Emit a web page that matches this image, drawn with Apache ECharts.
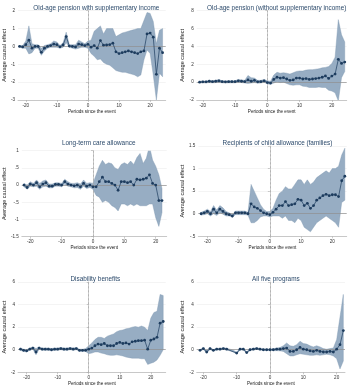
<!DOCTYPE html>
<html>
<head>
<meta charset="utf-8">
<script src="https://cdn.jsdelivr.net/npm/echarts@6/dist/echarts.min.js"></script>
<style>
  html, body { margin: 0; padding: 0; background: #fff; }
  #main { width: 350px; height: 388px; }
</style>
</head>
<body>
<div id="main"></div>
<script>
// event-study estimates, one set of arrays per panel
const titles = [
  'Old-age pension with supplementary income',
  'Old-age pension (without supplementary income)',
  'Long-term care allowance',
  'Recipients of child allowance (families)',
  'Disability benefits',
  'All five programs'
];
const xTicks = [-20, -10, 0, 10, 20];

// 1: old-age pension with supplementary income (t = -22..24)
const periods1 = [-22,-21,-20,-19,-18,-17,-16,-15,-14,-13,-12,-11,-10,-9,-8,-7,-6,-5,-4,-3,-2,-1,0,1,2,3,4,5,6,7,8,9,10,11,12,13,14,15,16,17,18,19,20,21,22,23,24];
const est1 = [0,-0.03,0.1,0.35,-0.1,0,0,-0.33,-0.1,0,0.05,0.13,0.1,-0.02,0.08,0.55,0.02,0,-0.03,0.13,0.1,0.05,
  0.12,-0.04,0.05,-0.1,0.33,0.07,0.08,0.1,0.18,-0.3,-0.4,-0.35,-0.3,-0.25,-0.3,-0.35,-0.4,-0.3,-0.25,0.7,0.75,0.52,-1.56,-0.1,-0.35];
const lo1 = [-0.05,-0.1,-0.1,-0.42,-0.35,-0.1,-0.1,-0.5,-0.25,-0.1,-0.05,-0.05,-0.05,-0.1,-0.05,0.2,-0.05,-0.1,-0.15,-0.1,-0.05,-0.05,
  -0.1,-0.4,-0.55,-0.75,-0.7,-0.9,-1.0,-1.05,-1.2,-1.35,-1.4,-1.45,-1.45,-1.5,-1.55,-1.6,-1.7,-1.6,-0.75,-0.2,-0.4,-1.6,-3.0,-1.5,-1.7];
const hi1 = [0.05,0.05,0.3,1.15,0.15,0.1,0.1,-0.1,0.05,0.1,0.15,0.3,0.25,0.05,0.2,0.8,0.1,0.1,0.1,0.35,0.25,0.15,
  0.3,0.35,0.85,1.0,1.15,0.7,1.0,1.0,1.0,0.55,0.65,0.75,0.8,0.85,0.9,0.95,1.0,1.0,1.45,1.9,1.85,1.4,0.15,0.9,1.0];

// 2: old-age pension without supplementary income (t = -21..24)
const periods2 = [-21,-20,-19,-18,-17,-16,-15,-14,-13,-12,-11,-10,-9,-8,-7,-6,-5,-4,-3,-2,-1,0,1,2,3,4,5,6,7,8,9,10,11,12,13,14,15,16,17,18,19,20,21,22,23,24];
const est2 = [0,0.03,0.03,0.1,0.05,0.1,0.15,0.05,0.03,0.05,0.05,0.05,0.15,0.1,0.05,0.25,0.1,0.2,0.03,0.05,0.15,
  -0.05,-0.1,0.3,0.55,0.45,0.5,0.35,0.2,0.25,0.45,0.45,0.35,0.4,0.3,0.35,0.4,0.45,0.55,0.7,0.42,0.68,0.9,2.55,2.1,2.25];
const lo2 = [-0.08,-0.08,-0.08,-0.05,-0.08,-0.05,-0.02,-0.08,-0.1,-0.08,-0.08,-0.08,0,-0.05,-0.1,-0.15,-0.1,-0.05,-0.12,-0.1,0,
  -0.2,-0.25,-0.1,0.05,-0.05,0,-0.15,-0.3,-0.35,-0.3,-0.3,-0.45,-0.5,-0.6,-0.6,-0.6,-0.55,-0.6,-0.6,-0.9,-1.0,-1.2,-2.1,0.5,1.2];
const hi2 = [0.08,0.12,0.12,0.2,0.15,0.2,0.3,0.15,0.12,0.15,0.15,0.15,0.3,0.25,0.2,0.75,0.5,0.45,0.2,0.2,0.3,
  0.15,0.1,0.8,1.1,1.0,1.05,1.0,0.9,1.05,1.2,1.25,1.25,1.35,1.4,1.4,1.45,1.5,1.6,1.65,1.75,2.1,2.8,7.0,5.3,4.5];

// 3: long-term care allowance (t = -22..22)
const periods3 = [-22,-21,-20,-19,-18,-17,-16,-15,-14,-13,-12,-11,-10,-9,-8,-7,-6,-5,-4,-3,-2,-1,0,1,2,3,4,5,6,7,8,9,10,11,12,13,14,15,16,17,18,19,20,21,22];
const est3 = [0,-0.07,0.03,0,0.07,-0.05,0.03,0.07,-0.03,-0.03,0.02,0.02,0,0.1,0.03,0,-0.02,0,-0.05,0.05,-0.03,0,
  -0.05,-0.05,0.1,0.23,0.1,0.1,0.05,0,-0.15,0.1,0.1,0.07,0.1,0,0.17,0.15,0.17,0.2,0.3,0.05,0,-0.45,-0.45];
const lo3 = [-0.05,-0.12,-0.03,-0.05,-0.03,-0.12,-0.05,-0.03,-0.08,-0.08,-0.03,-0.03,-0.05,0.03,-0.03,-0.05,-0.08,-0.07,-0.12,-0.03,-0.1,-0.07,
  -0.12,-0.3,-0.35,-0.5,-0.45,-0.5,-0.6,-0.65,-0.75,-0.55,-0.55,-0.6,-0.55,-0.6,-0.55,-0.6,-0.6,-0.6,-0.55,-0.55,-0.95,-1.2,-0.8];
const hi3 = [0.05,0,0.1,0.05,0.15,0.05,0.12,0.15,0.03,0.03,0.07,0.07,0.05,0.17,0.1,0.05,0.05,0.07,0.03,0.15,0.05,0.07,
  0.05,0.3,0.55,0.72,0.6,0.65,0.62,0.5,0.45,0.6,0.65,0.6,0.7,0.6,0.8,0.92,0.63,0.78,1.13,0.73,0.55,0.3,-0.1];

// 4: recipients of child allowance (t = -22..24)
const periods4 = [-22,-21,-20,-19,-18,-17,-16,-15,-14,-13,-12,-11,-10,-9,-8,-7,-6,-5,-4,-3,-2,-1,0,1,2,3,4,5,6,7,8,9,10,11,12,13,14,15,16,17,18,19,20,21,22,23,24];
const est4 = [0,0.02,0.05,0,0.1,0.02,0.1,0.05,0,-0.02,-0.05,0.02,0.02,0.02,0.02,0,0.22,0.15,0.12,0.07,0.02,0,
  -0.02,0.03,0.1,0.18,0.18,0.27,0.18,0.2,0.22,0.32,0.3,0.18,0.23,0.12,0.18,0.3,0.35,0.4,0.43,0.4,0.42,0.42,0.38,0.73,0.83];
const lo4 = [-0.03,-0.02,0,-0.05,0,-0.04,0.02,-0.01,-0.05,-0.05,-0.08,-0.02,-0.02,-0.02,-0.02,-0.03,-0.2,-0.2,-0.15,-0.07,-0.05,-0.05,
  -0.07,-0.05,-0.05,-0.05,-0.1,-0.05,-0.15,-0.15,-0.2,-0.1,-0.15,-0.3,-0.35,-0.4,-0.3,-0.2,-0.15,-0.1,-0.05,-0.1,-0.15,-0.2,-0.3,0.25,0.3];
const hi4 = [0.03,0.06,0.1,0.05,0.18,0.08,0.18,0.13,0.05,0.02,-0.02,0.06,0.06,0.06,0.06,0.03,0.65,0.5,0.35,0.2,0.1,0.05,
  0.05,0.12,0.3,0.45,0.5,0.6,0.55,0.55,0.65,0.75,0.75,0.65,0.75,0.65,0.7,0.8,0.85,0.9,0.95,0.9,1.0,1.0,1.05,1.3,1.45];

// 5: disability benefits (t = -22..24)
const periods5 = [-22,-21,-20,-19,-18,-17,-16,-15,-14,-13,-12,-11,-10,-9,-8,-7,-6,-5,-4,-3,-2,-1,0,1,2,3,4,5,6,7,8,9,10,11,12,13,14,15,16,17,18,19,20,21,22,23,24];
const est5 = [0.05,-0.05,-0.1,0.05,0.15,-0.2,0.15,0.05,0.05,0.05,0,0.05,0.05,0.1,0.05,0.05,0.1,0.05,0.1,-0.05,-0.05,-0.05,
  0.05,0.15,0.35,0.5,0.45,0.55,0.35,0.35,0.35,0.55,0.65,0.55,0.6,0.5,0.7,0.75,0.8,0.8,0.85,0.05,0.85,0.95,1.1,2.35,2.5];
const lo5 = [-0.05,-0.15,-0.2,-0.05,0.05,-0.45,0.05,-0.05,-0.05,-0.05,-0.1,-0.05,-0.05,0,-0.05,-0.05,0,-0.05,0,-0.15,-0.15,-0.15,
  -0.35,-0.3,-0.2,-0.2,-0.3,-0.35,-0.45,-0.5,-0.5,-0.45,-0.5,-0.55,-0.65,-0.7,-0.75,-0.75,-0.75,-0.8,-0.8,-1.3,-1.2,-1.1,-0.9,-0.5,0];
const hi5 = [0.15,0.05,0,0.15,0.25,0.1,0.25,0.15,0.15,0.15,0.1,0.15,0.15,0.2,0.15,0.15,0.2,0.15,0.2,0.05,0.05,0.1,
  0.35,0.6,0.9,1.1,1.1,1.0,1.2,1.3,1.4,1.6,1.7,1.75,1.85,1.9,2.0,2.05,2.0,2.1,2.0,1.7,2.8,3.3,3.4,4.9,4.8];

// 6: all five programs (t = -21..22)
const periods6 = [-21,-20,-19,-18,-17,-16,-15,-14,-13,-12,-11,-10,-9,-8,-7,-6,-5,-4,-3,-2,-1,0,1,2,3,4,5,6,7,8,9,10,11,12,13,14,15,16,17,18,19,20,21,22];
const est6 = [-0.05,0.1,-0.2,0.1,-0.05,0.05,0.05,0.1,0.05,null,null,-0.3,0.05,0.05,-0.25,0,0.05,0.1,0.05,0,0,
  0,0,0.05,0.05,0.1,0.15,-0.15,-0.15,0,0.2,0.05,0,-0.1,-0.15,-0.05,-0.15,-0.2,-0.2,-0.15,-0.2,0.05,0.45,1.7];
const lo6 = [-0.12,0.02,-0.3,0.02,-0.12,-0.02,-0.02,0.03,-0.02,-0.1,-0.2,-0.38,-0.02,-0.02,-0.32,-0.07,-0.02,0.03,-0.02,-0.06,-0.06,
  -0.06,-0.08,-0.08,-0.1,-0.15,-0.35,-0.55,-0.55,-0.45,-0.35,-0.4,-0.45,-0.5,-0.5,-0.45,-0.5,-0.45,-0.4,-0.45,-0.55,-0.8,-1.7,-1.0];
const hi6 = [0.02,0.18,-0.1,0.18,0.02,0.12,0.12,0.17,0.12,0.05,-0.05,-0.22,0.12,0.12,-0.18,0.07,0.12,0.17,0.12,0.06,0.06,
  0.06,0.08,0.15,0.2,0.35,0.6,0.35,0.3,0.45,0.75,0.55,0.5,0.35,0.25,0.35,0.25,0.1,0.05,0.1,0.15,0.9,2.9,4.9];

const panels = [
  { t: periods1, est: est1, lo: lo1, hi: hi1, yMin: -3, yMax: 2, yStep: 1, xMin: -22.5, xMax: 25,
    grid: { left: 17, right: 184.3, top: 10.7, bottom: 288 }, titleTop: 0 },
  { t: periods2, est: est2, lo: lo2, hi: hi2, yMin: -2, yMax: 8, yStep: 2, xMin: -21.9, xMax: 24.6,
    grid: { left: 196.7, right: 3.3, top: 10.7, bottom: 288 }, titleTop: 0 },
  { t: periods3, est: est3, lo: lo3, hi: hi3, yMin: -1.5, yMax: 1, yStep: 0.5, xMin: -22.7, xMax: 23.5,
    grid: { left: 20.7, right: 183.3, top: 150.7, bottom: 151.3 }, titleTop: 135 },
  { t: periods4, est: est4, lo: lo4, hi: hi4, yMin: -0.5, yMax: 1.5, yStep: 0.5, xMin: -22.9, xMax: 24.6,
    grid: { left: 198.3, right: 3.3, top: 146, bottom: 151.7 }, titleTop: 135.5 },
  { t: periods5, est: est5, lo: lo5, hi: hi5, yMin: -2, yMax: 6, yStep: 2, xMin: -22.8, xMax: 24.8,
    grid: { left: 15, right: 184.3, top: 282, bottom: 15.7 }, titleTop: 271 },
  { t: periods6, est: est6, lo: lo6, hi: hi6, yMin: -2, yMax: 6, yStep: 2, xMin: -22, xMax: 22.5,
    grid: { left: 196.7, right: 5, top: 282, bottom: 15.7 }, titleTop: 271 }
];

const FONT = 'Liberation Sans';
const navy = '#1d3c5e';

function fmtNum(v) {
  // Stata style: .5 instead of 0.5
  return String(v).replace(/^0\./, '.').replace(/^-0\./, '-.');
}

// confidence band as one polygon: upper edge left->right, lower edge right->left
function bandRenderer(p) {
  return function (params, api) {
    if (params.dataIndex !== 0) return null;
    const pts = [];
    for (let k = 0; k < p.t.length; k++) pts.push(api.coord([p.t[k], p.hi[k]]));
    for (let k = p.t.length - 1; k >= 0; k--) pts.push(api.coord([p.t[k], p.lo[k]]));
    return {
      type: 'polygon',
      shape: { points: pts },
      style: { fill: '#97adc3', stroke: '#7f97b0', lineWidth: 0.4 }
    };
  };
}

const chart = echarts.init(document.getElementById('main'), null, { renderer: 'canvas' });

const title = [], grid = [], xAxis = [], yAxis = [], series = [];

panels.forEach((p, i) => {
  const g = p.grid;
  const cx = g.left + (350 - g.left - g.right) / 2;
  title.push({
    text: titles[i], left: cx, top: p.titleTop, textAlign: 'center',
    textStyle: { fontFamily: FONT, fontSize: 6.4, fontWeight: 'normal', color: '#2c4a6b' }
  });
  grid.push({ left: g.left, right: g.right, top: g.top, bottom: g.bottom, containLabel: false });
  xAxis.push({
    type: 'value', gridIndex: i, min: p.xMin, max: p.xMax,
    name: 'Periods since the event', nameLocation: 'middle', nameGap: 8.5,
    nameTextStyle: { fontFamily: FONT, fontSize: 4.6, color: '#222' },
    axisLine: { show: true, onZero: false, lineStyle: { color: '#aaa', width: 0.6 } },
    axisTick: { show: true, length: 2, lineStyle: { color: '#aaa', width: 0.6 }, customValues: xTicks },
    axisLabel: { fontFamily: FONT, fontSize: 4.6, color: '#333', margin: 3, customValues: xTicks },
    splitLine: { show: false }
  });
  yAxis.push({
    type: 'value', gridIndex: i, min: p.yMin, max: p.yMax, interval: p.yStep,
    name: 'Average causal effect', nameLocation: 'middle', nameGap: 11,
    nameTextStyle: { fontFamily: FONT, fontSize: 5.5, color: '#222' },
    axisLine: { show: true, lineStyle: { color: '#aaa', width: 0.6 } },
    axisTick: { show: true, length: 2, lineStyle: { color: '#aaa', width: 0.6 } },
    axisLabel: { fontFamily: FONT, fontSize: 4.6, color: '#333', margin: 3, formatter: fmtNum },
    splitLine: { show: true, lineStyle: { color: '#ececec', width: 0.6 } }
  });
  series.push({
    type: 'custom', xAxisIndex: i, yAxisIndex: i, z: 1, silent: true, clip: true,
    renderItem: bandRenderer(p),
    data: p.t.map((t, k) => [t, p.lo[k], p.hi[k]])
  });
  series.push({
    type: 'line', xAxisIndex: i, yAxisIndex: i, z: 5,
    data: p.t.map((t, k) => [t, p.est[k]]), connectNulls: true,
    symbol: 'circle', symbolSize: 2.8, showSymbol: true,
    itemStyle: { color: navy }, lineStyle: { color: navy, width: 0.7 },
    markLine: {
      silent: true, symbol: 'none', label: { show: false },
      data: [
        { yAxis: 0, lineStyle: { color: '#8f8f8f', width: 0.7, type: 'solid' } },
        { xAxis: 0, lineStyle: { color: '#a8a8a8', width: 0.7, type: [2, 2] } }
      ]
    }
  });
});

chart.setOption({
  backgroundColor: '#fff',
  animation: false,
  title: title,
  grid: grid,
  xAxis: xAxis,
  yAxis: yAxis,
  series: series
});
</script>
</body>
</html>
